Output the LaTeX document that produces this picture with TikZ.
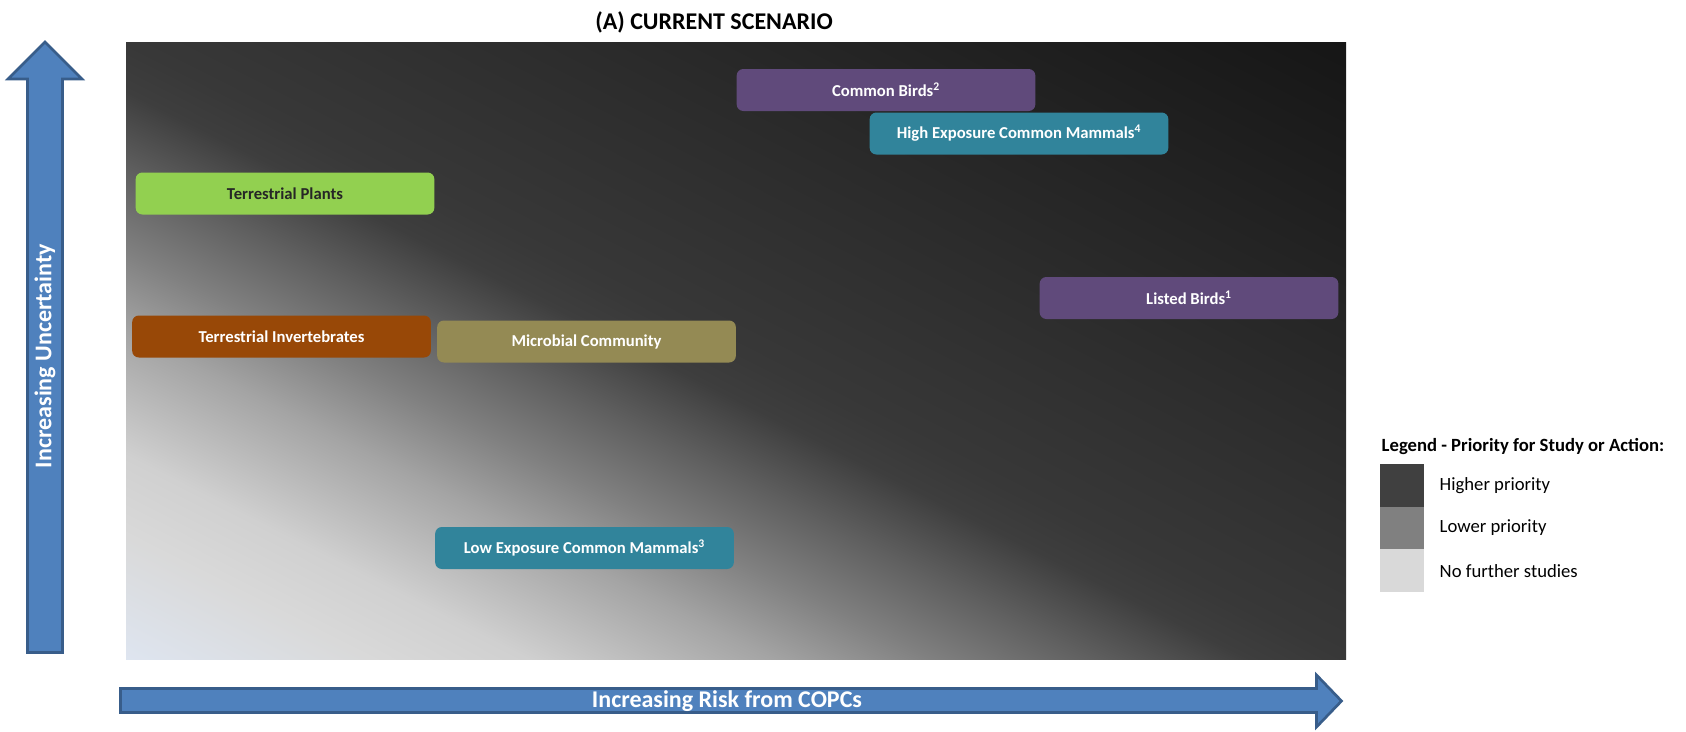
\documentclass[tikz,border=0pt]{standalone}
\usepackage{fontspec}
\setmainfont{Carlito}
\usepackage{xcolor}
\usepackage{tikz}

\definecolor{plants}{HTML}{92D050}
\definecolor{inverts}{HTML}{984807}
\definecolor{microbes}{HTML}{948A54}
\definecolor{birds}{HTML}{604A7B}
\definecolor{mammals}{HTML}{31849B}
\definecolor{axisfill}{HTML}{4F81BD}
\definecolor{axisline}{HTML}{385D8A}
\definecolor{bgA}{HTML}{DEE5F0}
\definecolor{bgB}{HTML}{D9D9D9}
\definecolor{bgC}{HTML}{D0D0D0}
\definecolor{bgD}{HTML}{A4A4A4}
\definecolor{bgE}{HTML}{808080}
\definecolor{bgF}{HTML}{606060}
\definecolor{bgG}{HTML}{3E3E3E}
\definecolor{bgH}{HTML}{383838}
\definecolor{bgI}{HTML}{161616}
\definecolor{highprio}{HTML}{404040}

\pgfdeclarehorizontalshading{priority}{300bp}{color(0bp)=(bgA); color(114.6bp)=(bgA);
  color(121.7bp)=(bgB); color(126.3bp)=(bgC); color(133.4bp)=(bgD); color(138bp)=(bgE);
  color(142.6bp)=(bgF); color(147.2bp)=(bgG); color(150bp)=(bgH); color(185.4bp)=(bgI);
  color(300bp)=(bgI)}

\begin{document}
\begin{tikzpicture}
    [x=0.75pt,y=-0.75pt,
    font=\fontsize{12.5}{15}\selectfont\bfseries,
    taxon/.style={shape=rectangle,rounded corners=5pt,minimum width=224pt,minimum height=31.5pt,inner sep=0pt,text=white},
    legbox/.style={shape=rectangle,minimum width=33pt,minimum height=32pt,inner sep=0pt},
    legtext/.style={anchor=west,font=\fontsize{14}{17}\selectfont},
    axis/.style={fill=axisfill,draw=axisline,line width=2pt,line join=miter},
    axislabel/.style={text=white,font=\fontsize{18}{22}\selectfont\bfseries}]

    \useasboundingbox (0,0) rectangle (1686,732);

    % diagonal gradient stretched to the plot area
    \begin{scope}
      \clip (126,42) rectangle (1346,659);
      \pgftransformshift{\pgfpointxy{736}{350.5}}
      \pgftransformxscale{18.232}
      \pgftransformyscale{9.220}
      \pgftransformrotate{45}
      \pgflowlevelsynccm
      \pgfuseshading{priority}
    \end{scope}

    \node (title) [font=\fontsize{18}{22}\selectfont\bfseries] at (714,22) {(A) CURRENT SCENARIO};

    \node (cbirds) [taxon,fill=birds] at (886,90) {Common Birds\textsuperscript{2}};
    \node (himam) [taxon,fill=mammals] at (1019,133.5) {High Exposure Common Mammals\textsuperscript{4}};
    \node (plants) [taxon,fill=plants,text=black!85] at (285,193.5) {Terrestrial Plants};
    \node (lbirds) [taxon,fill=birds] at (1189,298) {Listed Birds\textsuperscript{1}};
    \node (inverts) [taxon,fill=inverts] at (281.5,336.5) {Terrestrial Invertebrates};
    \node (microbes) [taxon,fill=microbes] at (586.5,341.5) {Microbial Community};
    \node (lomam) [taxon,fill=mammals] at (584.5,548) {Low Exposure Common Mammals\textsuperscript{3}};

    \draw [axis] (45,42) -- (82,79) -- (62.5,79) -- (62.5,652.5) -- (27.5,652.5) -- (27.5,79) -- (8,79) -- cycle;
    \node (uncert) [axislabel,rotate=90] at (45,356) {Increasing Uncertainty};
    \draw [axis] (120.5,688.5) -- (1316.5,688.5) -- (1316.5,675) -- (1341.5,701) -- (1316.5,727) -- (1316.5,712.5) -- (120.5,712.5) -- cycle;
    \node (risk) [axislabel] at (727,701) {Increasing Risk from COPCs};

    \node (legend) [legtext,font=\fontsize{14}{17}\selectfont\bfseries] at (1377,447) {Legend - Priority for Study or Action:};
    \node (high) [legbox,fill=highprio] at (1402,485.5) {};
    \node (low) [legbox,fill=gray] at (1402,528) {};
    \node (none) [legbox,fill=bgB] at (1402,570.5) {};
    \node (hightext) [legtext] at (1435,486) {Higher priority};
    \node (lowtext) [legtext] at (1435,528) {Lower priority};
    \node (nonetext) [legtext] at (1435,571) {No further studies};

\end{tikzpicture}
\end{document}
